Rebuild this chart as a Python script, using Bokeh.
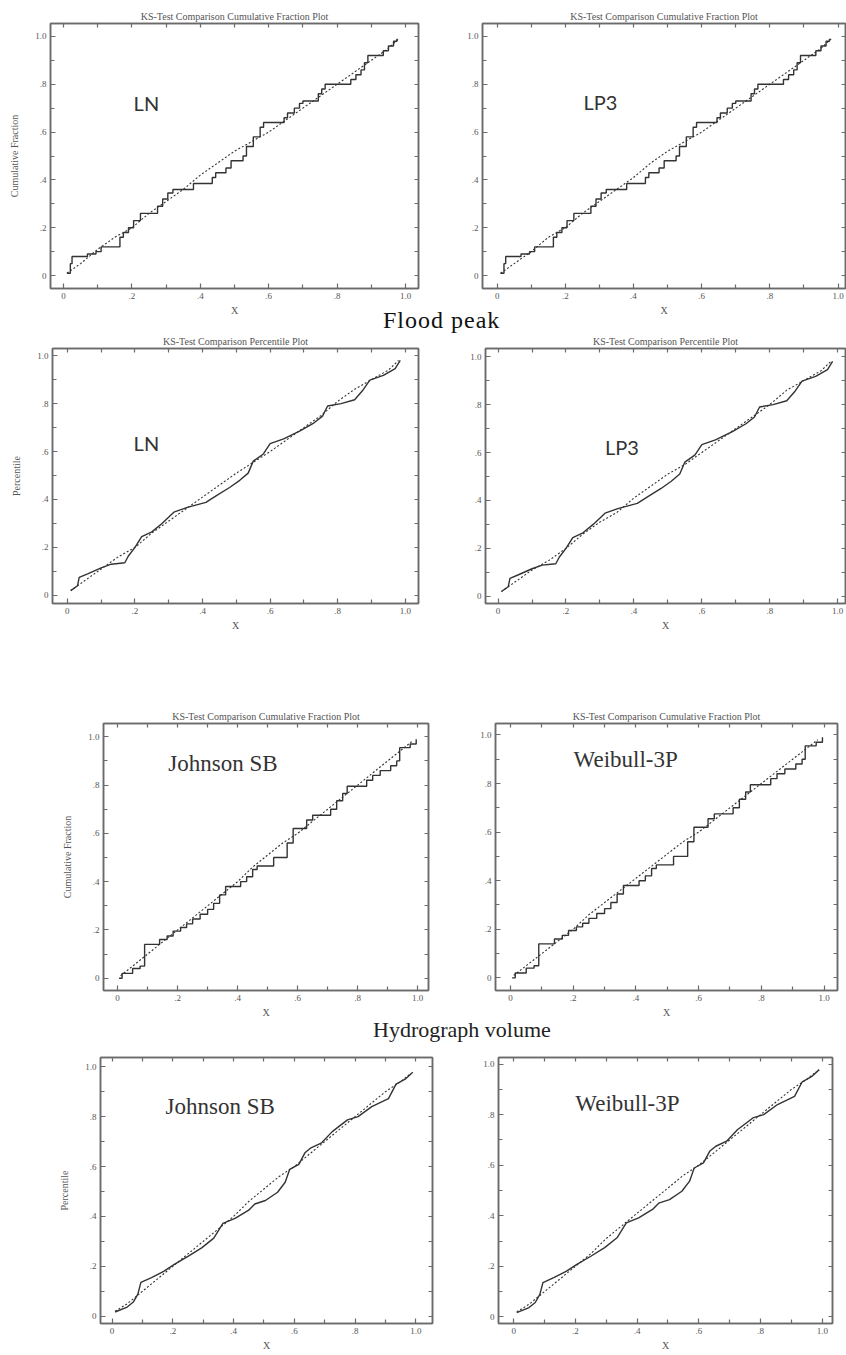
from bokeh.plotting import figure
from bokeh.models import LinearAxis, FixedTicker, Label, Div, Spacer, Range1d
from bokeh.layouts import row, column
from bokeh.embed import file_html
from bokeh.resources import INLINE

# ---------------- data ----------------
major_ticks = [0.0, 0.2, 0.4, 0.6, 0.8, 1.0]
minor_ticks = [0.1, 0.3, 0.5, 0.7, 0.9]
tick_labels = ["0", ".2", ".4", ".6", ".8", "1.0"]

# Flood peak: empirical cumulative fraction (step function)
fp_cdf_x = [0.01, 0.02, 0.025, 0.07, 0.095, 0.11, 0.165, 0.175, 0.19, 0.205, 0.225, 0.275,
            0.29, 0.305, 0.32, 0.38, 0.435, 0.445, 0.475, 0.49, 0.525, 0.535, 0.555, 0.575,
            0.585, 0.645, 0.655, 0.675, 0.69, 0.70, 0.745, 0.755, 0.765, 0.84, 0.855, 0.87,
            0.88, 0.89, 0.935, 0.95, 0.965, 0.975]
fp_cdf_y = [0.01, 0.05, 0.08, 0.09, 0.10, 0.12, 0.16, 0.18, 0.20, 0.23, 0.26, 0.29,
            0.32, 0.345, 0.36, 0.385, 0.41, 0.43, 0.45, 0.48, 0.50, 0.54, 0.58, 0.62,
            0.64, 0.66, 0.68, 0.70, 0.72, 0.73, 0.76, 0.78, 0.80, 0.82, 0.84, 0.86,
            0.89, 0.92, 0.94, 0.96, 0.98, 0.99]
# fitted curves (dotted), sampled on a common x grid
fit_x = [0.01, 0.05, 0.10, 0.15, 0.20, 0.25, 0.30, 0.35, 0.40, 0.45, 0.50, 0.55,
         0.60, 0.65, 0.70, 0.75, 0.80, 0.85, 0.90, 0.95, 0.98]
fp_cdf_ln = [0.01, 0.05, 0.11, 0.16, 0.20, 0.26, 0.31, 0.36, 0.42, 0.47, 0.52, 0.56,
             0.60, 0.65, 0.70, 0.75, 0.80, 0.85, 0.90, 0.95, 0.99]
fp_cdf_lp3 = [0.01, 0.05, 0.10, 0.16, 0.20, 0.26, 0.31, 0.36, 0.41, 0.47, 0.52, 0.56,
              0.60, 0.65, 0.70, 0.75, 0.80, 0.85, 0.90, 0.95, 0.99]

# Flood peak: percentile plot
fp_pct_x = [0.01, 0.03, 0.035, 0.06, 0.10, 0.13, 0.17, 0.18, 0.20, 0.22, 0.25, 0.28,
            0.315, 0.355, 0.41, 0.44, 0.48, 0.51, 0.535, 0.55, 0.58, 0.60, 0.64, 0.69,
            0.73, 0.755, 0.77, 0.81, 0.85, 0.875, 0.895, 0.935, 0.97, 0.985]
fp_pct_y = [0.02, 0.04, 0.075, 0.09, 0.115, 0.13, 0.136, 0.163, 0.20, 0.245, 0.265, 0.30,
            0.347, 0.367, 0.388, 0.415, 0.45, 0.48, 0.51, 0.56, 0.59, 0.633, 0.653, 0.687,
            0.72, 0.748, 0.79, 0.80, 0.816, 0.857, 0.898, 0.918, 0.946, 0.98]
fp_pct_ln = [0.02, 0.06, 0.11, 0.16, 0.20, 0.26, 0.31, 0.36, 0.41, 0.46, 0.51, 0.555,
             0.60, 0.65, 0.70, 0.75, 0.81, 0.86, 0.90, 0.94, 0.98]
fp_pct_lp3 = [0.02, 0.06, 0.11, 0.15, 0.20, 0.26, 0.31, 0.35, 0.41, 0.46, 0.51, 0.55,
              0.60, 0.65, 0.70, 0.75, 0.80, 0.86, 0.90, 0.94, 0.98]

# Hydrograph volume: empirical cumulative fraction (step function)
hv_cdf_x = [0.005, 0.015, 0.05, 0.075, 0.09, 0.14, 0.165, 0.185, 0.21, 0.23, 0.25, 0.275,
            0.30, 0.32, 0.34, 0.36, 0.41, 0.43, 0.45, 0.465, 0.52, 0.565, 0.585, 0.63,
            0.65, 0.71, 0.73, 0.75, 0.765, 0.83, 0.85, 0.875, 0.91, 0.93, 0.94, 0.975, 0.995]
hv_cdf_y = [0.0, 0.02, 0.04, 0.05, 0.14, 0.16, 0.175, 0.195, 0.21, 0.225, 0.245, 0.265,
            0.285, 0.31, 0.345, 0.38, 0.40, 0.42, 0.45, 0.465, 0.50, 0.56, 0.62, 0.655,
            0.675, 0.70, 0.735, 0.765, 0.795, 0.82, 0.84, 0.86, 0.88, 0.90, 0.955, 0.97, 0.99]
hv_cdf_jsb = [0.01, 0.05, 0.10, 0.15, 0.20, 0.25, 0.30, 0.35, 0.40, 0.46, 0.51, 0.56,
              0.60, 0.65, 0.70, 0.75, 0.80, 0.85, 0.90, 0.95, 0.98]
hv_cdf_w3p = [0.01, 0.05, 0.10, 0.15, 0.20, 0.26, 0.31, 0.36, 0.41, 0.46, 0.51, 0.56,
              0.60, 0.65, 0.70, 0.75, 0.80, 0.85, 0.90, 0.95, 0.98]

# Hydrograph volume: percentile plot
hv_pct_x = [0.01, 0.05, 0.07, 0.085, 0.095, 0.13, 0.17, 0.205, 0.25, 0.295, 0.335, 0.365,
            0.405, 0.45, 0.47, 0.505, 0.545, 0.57, 0.585, 0.615, 0.635, 0.655, 0.69, 0.725,
            0.775, 0.81, 0.855, 0.91, 0.935, 0.965, 0.99]
hv_pct_y = [0.017, 0.037, 0.057, 0.089, 0.136, 0.155, 0.18, 0.208, 0.24, 0.274, 0.313, 0.372,
            0.392, 0.425, 0.45, 0.464, 0.497, 0.537, 0.589, 0.609, 0.655, 0.675, 0.695, 0.74,
            0.787, 0.80, 0.84, 0.872, 0.93, 0.95, 0.978]
hv_pct_jsb = [0.02, 0.05, 0.10, 0.15, 0.20, 0.25, 0.30, 0.35, 0.40, 0.46, 0.51, 0.56,
              0.60, 0.65, 0.70, 0.75, 0.80, 0.85, 0.90, 0.94, 0.97]
hv_pct_w3p = [0.02, 0.05, 0.10, 0.15, 0.20, 0.25, 0.31, 0.36, 0.41, 0.46, 0.51, 0.56,
              0.60, 0.65, 0.70, 0.75, 0.80, 0.85, 0.90, 0.94, 0.97]

# ---------------- styling ----------------
SERIF = "Liberation Serif"
FRAME = "#6a6a6a"
TXT = "#555555"
LINE = "#333333"


def style_axis(ax, labels, label_text=None):
    ax.axis_line_color = FRAME
    ax.axis_line_width = 1.5
    ax.major_tick_in = 5
    ax.major_tick_out = 0
    ax.minor_tick_in = 4
    ax.minor_tick_out = 0
    ax.major_tick_line_color = FRAME
    ax.minor_tick_line_color = FRAME
    ax.major_tick_line_width = 1.2
    ax.minor_tick_line_width = 1.2
    if labels:
        ax.ticker = FixedTicker(ticks=major_ticks, minor_ticks=minor_ticks)
        ax.major_label_overrides = dict(zip(major_ticks, tick_labels))
        ax.major_label_text_font = SERIF
        ax.major_label_text_color = TXT
        ax.major_label_text_font_size = "9px"
        ax.major_label_standoff = 4
    else:
        # mirror axis: tick marks only (all as minor ticks, so no labels are made)
        ax.ticker = FixedTicker(ticks=[], minor_ticks=sorted(major_ticks + minor_ticks))
        ax.major_label_standoff = 0
    if label_text:
        ax.axis_label = label_text
        ax.axis_label_text_font = SERIF
        ax.axis_label_text_font_size = "10px"
        ax.axis_label_text_font_style = "normal"
        ax.axis_label_text_color = TXT
        ax.axis_label_standoff = 3


def make_panel(w, h, L, R, T, B, xr, yr, title, ylabel, name, name_pos, name_font, name_size,
               sx, sy, step, fy):
    kw = dict(width=w, height=h, x_range=Range1d(*xr), y_range=Range1d(*yr),
              output_backend="svg", toolbar_location=None,
              min_border_left=L, min_border_right=R, min_border_top=T, min_border_bottom=B,
              border_fill_color=None, background_fill_color="white")
    kw["title"] = title if title else None
    p = figure(**kw)
    if title:
        p.title.text_font = SERIF
        p.title.text_font_size = "10px"
        p.title.text_font_style = "normal"
        p.title.text_color = TXT
        p.title.align = "center"
        p.title.standoff = 3
    p.grid.visible = False
    p.outline_line_color = FRAME
    p.outline_line_width = 1.5
    style_axis(p.xaxis[0], True, "X")
    style_axis(p.yaxis[0], True, ylabel)
    if ylabel:
        p.yaxis[0].axis_label_standoff = 12
    top = LinearAxis()
    style_axis(top, False)
    right = LinearAxis()
    style_axis(right, False)
    p.add_layout(top, "above")
    p.add_layout(right, "right")

    if step:
        p.step(sx, sy, mode="after", line_color=LINE, line_width=1.4)
    else:
        p.line(sx, sy, line_color=LINE, line_width=1.4)
    p.line(fit_x, fy, line_color=LINE, line_width=1.1, line_dash="2 2")

    p.add_layout(Label(x=name_pos[0], y=name_pos[1], text=name, text_font=name_font,
                       text_font_size=name_size, text_color="#333333",
                       text_baseline="alphabetic", text_align="left"))
    return p


f1 = make_panel(430, 318, 50, 12, 23, 29, (-0.038, 1.038), (-0.054, 1.054),
                "KS-Test Comparison Cumulative Fraction Plot", "Cumulative Fraction",
                "LN", (0.205, 0.721), "Lato", "20px", fp_cdf_x, fp_cdf_y, True, fp_cdf_ln)
f2 = make_panel(416, 318, 52, 1, 23, 29, (-0.043, 1.022), (-0.054, 1.054),
                "KS-Test Comparison Cumulative Fraction Plot", None,
                "LP3", (0.253, 0.725), "Lato", "20px", fp_cdf_x, fp_cdf_y, True, fp_cdf_lp3)

f3 = make_panel(430, 318, 52, 12, 22, 35, (-0.044, 1.039), (-0.034, 1.03),
                "KS-Test Comparison Percentile Plot", "Percentile",
                "LN", (0.196, 0.637), "Lato", "20px", fp_pct_x, fp_pct_y, False, fp_pct_ln)
f4 = make_panel(416, 318, 55, 1, 17, 41, (-0.037, 1.023), (-0.03, 1.034),
                "KS-Test Comparison Percentile Plot", None,
                "LP3", (0.315, 0.622), "Lato", "20px", fp_pct_x, fp_pct_y, False, fp_pct_lp3)

f5 = make_panel(440, 320, 103, 12, 23, 28, (-0.047, 1.036), (-0.051, 1.055),
                "KS-Test Comparison Cumulative Fraction Plot", "Cumulative Fraction",
                "Johnson SB", (0.169, 0.889), SERIF, "23px", hv_cdf_x, hv_cdf_y, True, hv_cdf_jsb)
f6 = make_panel(406, 320, 55, 9, 22, 28, (-0.048, 1.043), (-0.052, 1.047),
                "KS-Test Comparison Cumulative Fraction Plot", None,
                "Weibull-3P", (0.201, 0.898), SERIF, "23px", hv_cdf_x, hv_cdf_y, True, hv_cdf_w3p)

f7 = make_panel(440, 315, 100, 8, 13, 32, (-0.038, 1.055), (-0.029, 1.037),
                None, "Percentile",
                "Johnson SB", (0.176, 0.842), SERIF, "23px", hv_pct_x, hv_pct_y, False, hv_pct_jsb)
f8 = make_panel(406, 315, 58, 14, 17, 28, (-0.049, 1.033), (-0.026, 1.026),
                None, None,
                "Weibull-3P", (0.2, 0.844), SERIF, "23px", hv_pct_x, hv_pct_y, False, hv_pct_w3p)

div_a = Div(text="<div style=\"font-family:'Liberation Serif';font-size:24px;line-height:26px;"
                 "letter-spacing:1px;color:#111;white-space:nowrap\">Flood peak</div>",
            width=200, height=26, margin=(-11, 0, -7, 383))
div_b = Div(text="<div style=\"font-family:'Liberation Serif';font-size:22px;line-height:26px;"
                 "color:#222;white-space:nowrap\">Hydrograph volume</div>",
            width=260, height=26, margin=(-3, 0, -3, 373))

layout = column(row(f1, f2), div_a, row(f3, f4), Spacer(width=10, height=56),
                row(f5, f6), div_b, row(f7, f8))

open("out.html", "w").write(file_html(layout, INLINE))
